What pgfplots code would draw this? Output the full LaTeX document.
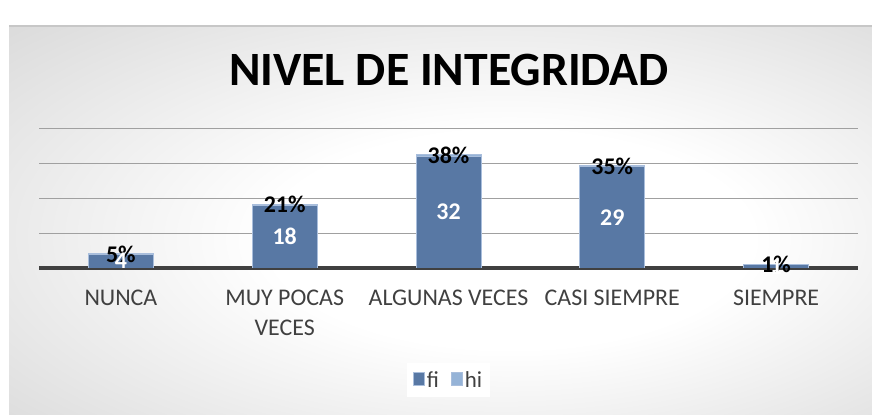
\documentclass[border=0pt]{standalone}
\usepackage{fontspec}
\setmainfont{Carlito}
\usepackage{pgfplots}
\usepackage{pgfplotstable}
\pgfplotsset{compat=1.18}
\definecolor{fiC}{HTML}{5878A4}
\definecolor{hiC}{HTML}{95B3D7}
\definecolor{edgeC}{HTML}{A9BEDC}
\definecolor{gridC}{HTML}{A0A0A0}
\definecolor{baseC}{HTML}{404040}
\definecolor{txtC}{HTML}{404040}
\pgfdeclareradialshading{bgshade}{\pgfpoint{5bp}{-3bp}}{color(0bp)=(white); color(14bp)=(white); color(50bp)=(black!21); color(75bp)=(black!30)}
\pgfplotstableread{
x fi hi hilab
0 4 0.05 5\%
1 18 0.21 21\%
2 32 0.38 38\%
3 29 0.35 35\%
4 1 0.01 1\%
}\datatable
\begin{document}
\begin{tikzpicture}
\useasboundingbox (0,0) rectangle (872bp,415bp);
\fill[white] (0,0) rectangle (872bp,415bp);
\shade[shading=bgshade] (9bp,0) rectangle (872bp,389bp);
\draw[black!22, line width=1.5bp] (9bp,389bp) -- (872bp,389bp);
\node[font=\fontsize{48}{52}\selectfont\bfseries] at (449bp,345bp) {NIVEL DE INTEGRIDAD};
\begin{axis}[
  at={(39bp,147bp)}, anchor=south west,
  scale only axis, width=819bp, height=140bp,
  ybar stacked, bar width=65bp,
  xmin=-0.5, xmax=4.5, ymin=0, ymax=40,
  ytick={10,20,30,40}, yticklabels={}, ymajorgrids,
  grid style={gridC, line width=1bp},
  extra y ticks={0}, extra y tick labels={},
  extra y tick style={grid style={baseC, line width=3bp}},
  axis line style={draw=none},
  xtick={0,...,4},
  xticklabels={NUNCA, {MUY POCAS\\VECES}, ALGUNAS VECES, CASI SIEMPRE, SIEMPRE},
  major tick length=0pt,
  xticklabel style={align=center, font=\fontsize{24}{31}\selectfont, text=txtC, yshift=-18bp},
  legend columns=2,
  legend style={at={(0.5,-0.8)}, anchor=center, draw=none, fill=white,
    font=\fontsize{23}{26}\selectfont, text=txtC, inner sep=6bp,
    /tikz/every even column/.append style={column sep=10bp}},
  legend image code/.code={\fill[#1] (0bp,-6bp) rectangle (11bp,7bp);},
]
\addplot[fill=fiC, draw=edgeC, line width=1bp,
  point meta=explicit symbolic, nodes near coords,
  every node near coord/.append style={anchor=center,
    text=white, font=\fontsize{24}{26}\selectfont\bfseries}]
  table[x=x, y=fi, meta=fi] {\datatable};
\addlegendentry{fi}
\addplot[fill=hiC, draw=edgeC, line width=1bp,
  point meta=explicit symbolic, nodes near coords,
  every node near coord/.append style={anchor=center, text=black, font=\fontsize{24}{26}\selectfont\bfseries}]
  table[x=x, y=hi, meta=hilab] {\datatable};
\addlegendentry{hi}
\end{axis}
\end{tikzpicture}
\end{document}
